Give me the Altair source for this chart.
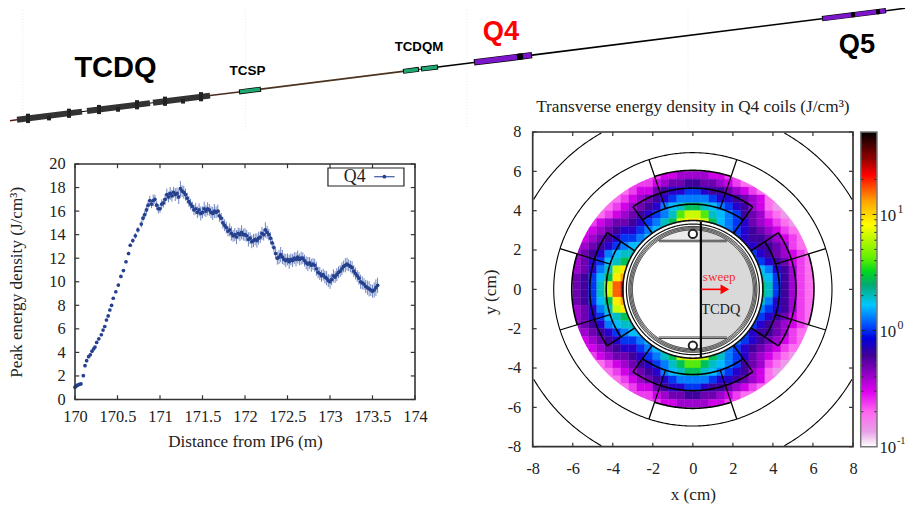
import altair as alt
import numpy as np
import pandas as pd

# ---------- left panel data: peak energy density vs distance ----------
DIST = [170.0,170.01,170.02,170.03,170.05,170.07,170.098,170.118,170.137,170.16,170.18,170.2,170.22,170.235,170.255,170.28,170.31,170.33,170.35,170.37,170.39,170.41,170.43,170.45,170.48,170.51,170.54,170.57,170.6,170.63,170.65,170.68,170.71,170.74,170.78,170.8,170.82,
170.84,170.86,170.88,170.90,170.92,170.94,170.96,170.98,171.00,171.02,
171.04,171.06,171.08,171.10,171.12,171.14,171.16,171.18,171.20,171.22,
171.24,171.26,171.28,171.30,171.32,171.34,171.36,171.38,171.40,171.42,
171.44,171.46,171.48,171.50,171.52,171.54,171.56,171.58,171.60,171.62,
171.64,171.66,171.68,171.70,171.72,171.74,171.76,171.78,171.80,171.82,
171.84,171.86,171.88,171.90,171.92,171.94,171.96,171.98,172.00,172.02,
172.04,172.06,172.08,172.10,172.12,172.14,172.16,172.18,172.20,172.22,
172.24,172.26,172.28,172.30,172.32,172.34,172.36,172.38,172.40,172.42,
172.44,172.46,172.48,172.50,172.52,172.54,172.56,172.58,172.60,172.62,
172.64,172.66,172.68,172.70,172.72,172.74,172.76,172.78,172.80,172.82,
172.84,172.86,172.88,172.90,172.92,172.94,172.96,172.98,173.00,173.02,
173.04,173.06,173.08,173.10,173.12,173.14,173.16,173.18,173.20,173.22,
173.24,173.26,173.28,173.30,173.32,173.34,173.36,173.38,173.40,173.42,
173.44,173.46,173.48,173.50,173.52,173.54,173.56]
PEAK = [1.05,1.12,1.18,1.22,1.28,1.32,2.02,2.87,3.3,3.64,3.8,4.1,4.3,4.45,4.85,5.15,5.5,5.9,6.2,6.75,7.1,7.6,8.0,8.6,9.15,9.72,10.45,10.95,11.7,12.4,13.1,13.5,13.9,14.4,14.9,15.4,15.7,
16.1,16.5,16.9,16.6,16.9,17.0,16.5,16.2,16.2,16.6,
16.7,17.0,17.4,17.2,17.5,17.3,17.6,17.4,17.5,17.2,
17.9,17.7,17.6,17.4,17.1,16.8,16.6,16.4,16.1,16.2,
15.9,16.1,15.8,15.9,16.2,16.0,16.2,16.1,15.9,15.8,
16.0,15.9,16.0,15.6,15.4,15.0,14.8,14.6,14.3,14.4,
14.1,13.9,14.0,13.8,14.1,14.0,14.2,14.0,14.0,13.9,
13.6,13.7,13.4,13.5,13.6,13.5,13.7,13.8,14.1,14.0,
14.4,14.2,14.0,13.7,13.3,12.9,12.4,12.0,12.1,12.3,
12.1,11.9,11.8,11.9,11.7,11.9,11.8,12.0,11.9,12.1,
11.9,12.0,12.0,11.8,11.6,11.5,11.6,11.4,11.5,11.4,
11.1,10.8,10.7,10.5,10.6,10.4,10.3,10.1,10.0,10.2,
10.5,10.4,10.6,10.8,10.9,11.1,11.3,11.4,11.5,11.4,
11.3,11.2,10.9,10.7,10.5,10.3,10.0,9.9,9.8,9.6,
9.5,9.4,9.3,9.2,9.3,9.5,9.7]
ERR = [0.03,0.03,0.03,0.03,0.03,0.03,0.05,0.05,0.05,0.06,0.06,0.06,0.06,0.07,0.07,0.07,0.07,0.08,0.08,0.08,0.08,0.1,0.1,0.1,0.1,0.1,0.12,0.12,0.14,0.15,0.15,0.2,0.25,0.25,0.3,0.3,0.3,
0.35,0.4,0.4,0.35,0.5,0.4,0.35,0.4,0.35,0.4,
0.4,0.45,0.5,0.45,0.55,0.5,0.45,0.55,0.5,0.6,
0.65,0.5,0.55,0.5,0.45,0.45,0.45,0.4,0.45,0.5,
0.5,0.55,0.6,0.5,0.6,0.5,0.55,0.5,0.5,0.55,
0.6,0.5,0.55,0.5,0.45,0.5,0.5,0.5,0.45,0.55,
0.6,0.5,0.55,0.6,0.5,0.55,0.6,0.5,0.55,0.5,
0.6,0.5,0.55,0.55,0.5,0.6,0.55,0.5,0.55,0.5,
0.65,0.55,0.5,0.5,0.45,0.4,0.4,0.55,0.6,0.65,
0.6,0.5,0.55,0.5,0.6,0.5,0.55,0.5,0.6,0.55,
0.5,0.55,0.5,0.5,0.55,0.6,0.5,0.55,0.5,0.55,
0.6,0.5,0.55,0.5,0.5,0.55,0.6,0.55,0.6,0.5,
0.55,0.5,0.55,0.5,0.5,0.55,0.5,0.6,0.55,0.5,
0.5,0.55,0.5,0.5,0.5,0.55,0.6,0.55,0.5,0.55,
0.6,0.65,0.5,0.55,0.65,0.7,0.65]
X_TICKS = [170,170.5,171,171.5,172,172.5,173,173.5,174]
Y_TICKS = [0,2,4,6,8,10,12,14,16,18,20]

# ---------- heat map: colour level of each 0.4 cm cell, top row first ----------
HEAT_ROWS = [
"..........deeffffeed..........",
"........ddefgghhggfedc........",
"......cdeeghiijjihhgfedc......",
".....cdefghijkkkkjiihgfec.....",
"....cdefghiklmnnmlkjihfecb....",
"...cdefghijkmoppomlkjhgfdcb...",
"..defgghijkmnpqqpnlkjigfedcb..",
"..efghiijkln......lkjihgfedc..",
".efghijjkl..........jihhgfedc.",
".fghijkll............iihhgfdc.",
"fghiklmm..............jihgfedc",
"fgijlmno..............kjihgedc",
"fgikmpqq..............llkihfdc",
"ghjlnqrr..............mmljhfdc",
"ghjmpstt..............nnmjhfdc",
"ghjmpstt..............nnmjhfdc",
"ghjlnqrr..............mmkihfdc",
"fgikmpqq..............lkjihfdc",
"fgijlmno..............kjihgedc",
"fghiklmm..............jihgfedc",
".fghijkll............jihhgfdc.",
".efghijjkl..........kjihgfedc.",
"..efghiijkln......mkjihgfedc..",
"..defgghijkmnpqqpnmkjigfedcb..",
"...cdefghijkmnoonmlkjhgfdcb...",
"....cdefghiklmnnmlkjihfecb....",
".....cdefghijkkkkjiihgfec.....",
"......cdeeghiijjihhgfedc......",
"........ddefgghhggfedc........",
"..........deeffffeed..........",
]
LEVEL_CODES = "abcdefghijklmnopqrst"
LEVEL_LOG = [-0.95,-0.85,-0.72,-0.6,-0.5,-0.4,-0.3,-0.2,-0.1,0.0,0.1,0.2,0.3,0.45,0.6,0.8,0.95,1.1,1.25,1.35]
CMAP_LOG = [-1.0,-0.87,-0.70,-0.526,-0.353,-0.21,-0.066,0.049,0.221,0.394,0.509,0.624,0.911,1.112,1.342,1.486,1.71]
CMAP_COL = ["#ffffff","#e8a0e8","#ff66f0","#e000f0","#8800c0","#400098","#0000e0","#0050ff","#00c8ff","#00aa70","#00d820","#60f000","#ffff00","#ffa500","#ff0000","#900000","#000000"]

# ---------- cross-section geometry (cm) ----------
RING_THIN = [6.95]
OUTER_R = 9.17
PIPE_RINGS = [(3.5,1.6),(3.32,1.2),(3.2,1.0),(3.14,0.9),(3.08,0.9),(3.02,0.9)]
TICKS_CM = [-8,-6,-4,-2,0,2,4,6,8]

# ---------- schematic (drawing units along the beam line) ----------
SEG_X0 = [2,9,202,231,253,395,413,430,466,524,814,878,9,79,145,231,395,413,466,510,814,844,869]
SEG_X1 = [9,202,231,253,395,413,430,466,524,814,878,897,74,142,202,253,411,430,524,514,878,846,871]
SEG_W  = [1.5,1,1.6,1,1.9,1,1,1.6,1,1.6,1,1.6,6,6,6,5,5,5,6.5,6.5,5.4,5.4,5.4]
SEG_C  = ["#5a1a1a","#000000","#4a2a20","#000000","#4a3420","#000000","#000000","#000000","#000000","#000000","#000000","#000000","#333333","#333333","#333333","#000000","#000000","#000000","#000000","#000000","#000000","#000000","#000000"]
FILL_X0 = [232,396,414,467,515,815,847,872]
FILL_X1 = [252,410,429,509,523,843,868,877]
FILL_W  = [3.6,3.6,3.6,5.2,5.2,4.2,4.2,4.2]
FILL_C  = ["#1fa871","#1fa871","#1fa871","#7b16c9","#7b16c9","#7b16c9","#7b16c9","#7b16c9"]
BLOB_X = [20,20,41,61,91,110,129,157,175,193]
BLOB_UP = [4.6,4.6,0,4.6,4.6,0,4.6,4.6,0,4.6]
BLOB_DN = [4.6,4.6,4.6,4.6,4.6,4.6,4.6,4.6,4.6,4.6]
GUIDES = [15,237.5,459,680]

# The page shrinks the drawing to 898 px wide and centres it vertically,
# so everything is laid out a little larger and a little higher.
W, H = 906, 496
S = 906 / 898
DY = H * (1 - 1 / S) / 2
LEFT_X = [67 * S, 407 * S]; LEFT_Y = [(391.5 - DY) * S, (156 - DY) * S]
RIGHT_X = [524.7 * S, 845 * S]; RIGHT_Y = [(438.7 - DY) * S, (124 - DY) * S]
BAR_X = [852.7 * S, 869 * S]; BAR_Y = [(438.7 - DY) * S, (124 - DY) * S]

SERIF = "Liberation Serif"; SANS = "Liberation Sans"; INK = "#222222"

def beam_y(x):
    return 112.7 - 0.1256 * (x - 2)

def scales(kind):
    if kind == "sch":
        return alt.Scale(domain=[0, 898], range=[0, W]), alt.Scale(domain=[DY, DY + H / S], range=[0, H])
    if kind == "left":
        return alt.Scale(domain=[170, 174], range=LEFT_X), alt.Scale(domain=[0, 20], range=LEFT_Y)
    if kind == "right":
        return alt.Scale(domain=[-8, 8], range=RIGHT_X), alt.Scale(domain=[-8, 8], range=RIGHT_Y)
    return alt.Scale(domain=[0, 1], range=BAR_X), alt.Scale(domain=[-1, 1.71], range=BAR_Y)

def X(kind, f="x", **kw):
    return alt.X(f"{f}:Q", scale=scales(kind)[0], axis=kw.get("axis", None), title=kw.get("title", None))
def Y(kind, f="y", **kw):
    return alt.Y(f"{f}:Q", scale=scales(kind)[1], axis=kw.get("axis", None), title=kw.get("title", None))

def text(kind, s, x, y, size, font=SERIF, color=INK, **mk):
    df = pd.DataFrame({"x": [x], "y": [y], "t": [s]})
    return alt.Chart(df).mark_text(font=font, fontSize=size, color=color, **mk).encode(
        x=X(kind), y=Y(kind), text="t:N")

def polylines(kind, df):
    return alt.Chart(df).mark_line(strokeCap="butt").encode(
        x=X(kind), y=Y(kind), detail="id:N", order="i:Q",
        color=alt.Color("c:N", scale=None), size=alt.Size("w:Q", scale=None))

def rules(kind, df, color, width):
    return alt.Chart(df).mark_rule(color=color, strokeWidth=width).encode(
        x=X(kind), y=Y(kind), x2="x2:Q", y2="y2:Q")

def frame(kind, x0, x1, y0, y1, color, width, xaxis=None, yaxis=None):
    df = pd.DataFrame({"x": [x0], "x1": [x1], "y": [y0], "y1": [y1]})
    return alt.Chart(df).mark_rect(fillOpacity=0, stroke=color, strokeWidth=width).encode(
        x=X(kind, axis=xaxis[0], title=xaxis[1]) if xaxis else X(kind),
        x2="x1:Q",
        y=Y(kind, axis=yaxis[0], title=yaxis[1]) if yaxis else Y(kind),
        y2="y1:Q")

def tick_table(xs, ys, xr, yr, lx, ly):
    rows = []
    for v in xs:
        rows += [dict(x=v, x2=v, y=yr[0], y2=yr[0] + ly), dict(x=v, x2=v, y=yr[1], y2=yr[1] - ly)]
    for v in ys:
        rows += [dict(x=xr[0], x2=xr[0] + lx, y=v, y2=v), dict(x=xr[1], x2=xr[1] - lx, y=v, y2=v)]
    return pd.DataFrame(rows)

def axis_common(values, **kw):
    return alt.Axis(values=values, domain=False, ticks=False, grid=False, labelFont=SERIF,
                    labelFontSize=16.5, labelColor=INK, labelExpr="'' + datum.value",
                    labelOverlap=False, labelFlush=False, titleFont=SERIF, titleFontSize=17.3,
                    titleFontWeight="normal", titleColor=INK, **kw)

# ---------- schematic ----------
rows = []
for k, (a, b, w, c) in enumerate(zip(SEG_X0 + FILL_X0, SEG_X1 + FILL_X1, SEG_W + FILL_W, SEG_C + FILL_C)):
    for i, xx in enumerate([a, b]):
        rows.append(dict(id=f"{k:03d}", i=i, x=xx, y=beam_y(xx), w=w, c=c))
for k, (xx, u, d) in enumerate(zip(BLOB_X, BLOB_UP, BLOB_DN)):
    rows.append(dict(id=f"b{k:02d}", i=0, x=xx, y=beam_y(xx) - u, w=4, c="#222222"))
    rows.append(dict(id=f"b{k:02d}", i=1, x=xx, y=beam_y(xx) + d, w=4, c="#222222"))
sch_df = pd.DataFrame(rows)
guide_df = pd.DataFrame({"x": GUIDES, "x2": GUIDES, "y": [-4] * 4, "y2": [122] * 4})
schematic = [
    alt.Chart(guide_df).mark_rule(color="#e6e6e6", strokeWidth=0.8, strokeDash=[1, 2]).encode(
        x=X("sch"), y=Y("sch"), x2="x2:Q", y2="y2:Q"),
    polylines("sch", sch_df),
    text("sch", "TCDQ", 107.5, 60, 29.3, SANS, "#000000", fontWeight="bold"),
    text("sch", "TCSP", 239.5, 63, 13.6, SANS, "#000000", fontWeight="bold"),
    text("sch", "TCDQM", 411, 39, 13.4, SANS, "#000000", fontWeight="bold"),
    text("sch", "Q4", 493, 24, 27.5, SANS, "#ff0000", fontWeight="bold"),
    text("sch", "Q5", 849, 37, 27.5, SANS, "#000000", fontWeight="bold"),
]

# ---------- left panel ----------
peak_df = pd.DataFrame({"x": DIST, "y": PEAK, "e": ERR})
peak_df["lo"] = peak_df.y - peak_df.e
peak_df["hi"] = peak_df.y + peak_df.e
left_x_axis = axis_common(X_TICKS, labelPadding=9, offset=LEFT_Y[0] - H, titleX=(LEFT_X[0] + LEFT_X[1]) / 2, titleY=42, titleBaseline="middle", orient="bottom")
left_y_axis = axis_common(Y_TICKS, labelPadding=10, offset=-LEFT_X[0], titleX=-59, titleY=274, titleBaseline="middle", orient="left")
legend_line = pd.DataFrame({"x": [173.52, 173.76], "y": [18.92, 18.92], "i": [0, 1], "id": ["l", "l"], "c": ["#3a56a0"] * 2, "w": [1.2, 1.2]})
left = [
    alt.Chart(peak_df).mark_rule(color="#4a66b0", strokeWidth=1, opacity=0.8).encode(
        x=X("left"), y=Y("left", f="lo"), y2="hi:Q"),
    alt.Chart(peak_df).mark_circle(color="#24408e", size=14, opacity=1).encode(x=X("left"), y=Y("left")),
    rules("left", tick_table(X_TICKS, Y_TICKS, [170, 174], [0, 20], 0.05, 0.36), "#333333", 1.2),
    frame("left", 170, 174, 0, 20, "#333333", 1.6,
          xaxis=(left_x_axis, "Distance from IP6 (m)"), yaxis=(left_y_axis, "Peak energy density (J/cm³)")),
    frame("left", 172.976, 173.87, 18.13, 19.66, "#222222", 1.2),
    text("left", "Q4", 173.29, 18.9, 18),
    polylines("left", legend_line),
    alt.Chart(pd.DataFrame({"x": [173.64], "y": [18.92]})).mark_circle(color="#24408e", size=14, opacity=1).encode(x=X("left"), y=Y("left")),
]

# ---------- right panel ----------
heat = []
for r, row in enumerate(HEAT_ROWS):
    inner = row.strip(".")
    first = len(row) - len(row.lstrip("."))
    for c, ch in enumerate(row):
        xc, yc = -5.8 + 0.4 * c, 5.8 - 0.4 * r
        if ch == "." and 6.0 < np.hypot(xc, yc) < 6.7:
            ch = inner[0] if c < first else inner[-1]   # the mask below trims these to the coil edge
        if ch != ".":
            heat.append(dict(x=xc - 0.2, x1=xc + 0.2, y=yc + 0.2, y1=yc - 0.2,
                             v=LEVEL_LOG[LEVEL_CODES.index(ch)]))
heat_df = pd.DataFrame(heat)
cscale = alt.Scale(domain=CMAP_LOG, range=CMAP_COL)
heatmap = alt.Chart(heat_df).mark_rect(strokeWidth=0.4).encode(
    x=X("right"), x2="x1:Q", y=Y("right"), y2="y1:Q",
    color=alt.Color("v:Q", scale=cscale, legend=None),
    stroke=alt.Stroke("v:Q", scale=cscale, legend=None))

def disc(x0, x1, r, color, y_low=None):
    xs = np.linspace(x0, x1, 160)
    top = np.sqrt(np.clip(r * r - xs * xs, 0, None))
    low = -top if y_low is None else np.full_like(xs, y_low)
    return alt.Chart(pd.DataFrame({"x": xs, "y": top, "y1": low})).mark_area(color=color, opacity=1).encode(
        x=X("right"), y=Y("right"), y2="y1:Q")

lines = []
def add_arc(store, idn, r, a0, a1, w, c="#000000", box=False):
    for i, a in enumerate(np.radians(np.linspace(a0, a1, max(6, int(abs(a1 - a0) * 1.5))))):
        xx, yy = r * np.cos(a), r * np.sin(a)
        if box and (abs(xx) > 8 or abs(yy) > 8):
            continue
        store.append(dict(id=idn, i=i, x=xx, y=yy, w=w, c=c))
def add_radial(idn, r0, r1, a, w, c="#000000"):
    for i, rr in enumerate([r0, r1]):
        lines.append(dict(id=idn, i=i, x=rr * np.cos(np.radians(a)), y=rr * np.sin(np.radians(a)), w=w, c=c))

mask = []
add_arc(mask, "mask", 6.55, 0, 360, 20, "#ffffff")
for corner, ac in enumerate([45, 135, 225, 315]):
    add_arc(lines, f"o{corner}", OUTER_R, ac - 44, ac + 44, 1.1, box=True)
add_arc(lines, "ring", RING_THIN[0], 0, 360, 1.1)
for k, r_w in enumerate(PIPE_RINGS):
    add_arc(lines, f"p{k}", r_w[0], 0, 360, r_w[1], "#111111")
for direction, inner_a, outer_a in [(90, 35.5, 18.4), (270, 35.5, 18.4), (180, 34, 17.3), (0, 34, 17.3)]:
    add_arc(lines, f"a{direction}", 6.05, direction - outer_a, direction + outer_a, 1.6)
    add_arc(lines, f"b{direction}", 5.15, direction - inner_a, direction + inner_a, 1.6)
    add_arc(lines, f"c{direction}", 4.33, direction - inner_a, direction + inner_a, 1.6)
    for s in (-1, 1):
        add_radial(f"r{direction}{s}", 4.33, 6.95, direction + s * outer_a, 1.3)
        add_radial(f"q{direction}{s}", 3.5, 5.15, direction + s * inner_a, 1.5)
lines_df = pd.DataFrame(lines)
flats = pd.DataFrame({"id": ["f1", "f1", "f2", "f2", "f3", "f3", "f4", "f4", "v", "v"],
                      "i": [0, 1] * 5,
                      "x": [-1.7, 1.7, -1.7, 1.7, -1.7, 1.7, -1.7, 1.7, 0.4, 0.4],
                      "y": [2.5, 2.5, 2.42, 2.42, -2.5, -2.5, -2.42, -2.42, -3.44, 3.44],
                      "w": [1.1] * 8 + [2.2] * 2,
                      "c": ["#444444"] * 8 + ["#000000"] * 2})
right_x_axis = axis_common(TICKS_CM, labelPadding=14, offset=RIGHT_Y[0] - H, titleX=(RIGHT_X[0] + RIGHT_X[1]) / 2, titleY=48, titleBaseline="middle", orient="bottom")
right_y_axis = axis_common(TICKS_CM, labelPadding=12, offset=-RIGHT_X[0], titleX=-43, titleY=284, titleBaseline="middle", orient="left")
right = [
    heatmap,
    polylines("right", pd.DataFrame(mask)),
    disc(-3.45, 3.45, 3.48, "#ffffff"),
    disc(0.4, 3.0, 3.0, "#d9d9d9"),
    disc(-1.7, 0.4, 3.0, "#ececec", 2.46),
    polylines("right", lines_df),
    polylines("right", flats),
    alt.Chart(pd.DataFrame({"x": [0, 0], "y": [2.82, -2.86]})).mark_point(
        filled=False, fill="#ffffff", fillOpacity=1, stroke="#222222", strokeWidth=2, size=70, opacity=1).encode(
        x=X("right"), y=Y("right")),
    polylines("right", pd.DataFrame({"id": ["s", "s"], "i": [0, 1], "x": [0.42, 1.7], "y": [0, 0], "w": [1.6, 1.6], "c": ["#ff0000"] * 2})),
    alt.Chart(pd.DataFrame({"x": [1.6], "y": [0]})).mark_point(
        shape="triangle-right", filled=True, color="#ff0000", size=100, opacity=1).encode(x=X("right"), y=Y("right")),
    text("right", "sweep", 0.5, 0.64, 13.2, color="#f03030", align="left"),
    text("right", "TCDQ", 0.42, -1.05, 14.5, align="left"),
    rules("right", tick_table(TICKS_CM, TICKS_CM, [-8, 8], [-8, 8], 0.2, 0.2), "#333333", 1.2),
    frame("right", -8, 8, -8, 8, "#333333", 1.7,
          xaxis=(right_x_axis, "x (cm)"), yaxis=(right_y_axis, "y (cm)")),
    text("right", "Transverse energy density in Q4 coils (J/cm³)", 0, 9.25, 17.4),
]

# ---------- colour bar ----------
stops = [alt.GradientStop(color=c, offset=(1.71 - v) / 2.71) for v, c in zip(CMAP_LOG[::-1], CMAP_COL[::-1])]
bar_df = pd.DataFrame({"x": [0], "x1": [1], "y": [-1], "y1": [1.71]})
minor = [m * 10.0 ** k for k in (-1, 0, 1) for m in range(2, 10) if m * 10.0 ** k < 50]
tick_rows = []
for v in minor + [1.0, 10.0]:
    ln = 0.27 if v in (1.0, 10.0) else 0.16
    for x0, x1 in [(0, ln), (1, 1 - ln)]:
        tick_rows.append(dict(x=x0, x2=x1, y=np.log10(v), y2=np.log10(v)))
bar = [
    alt.Chart(bar_df).mark_rect(fill=alt.LinearGradient(gradient="linear", stops=stops, x1=0, x2=0, y1=0, y2=1)).encode(
        x=X("bar"), x2="x1:Q", y=Y("bar"), y2="y1:Q"),
    rules("bar", pd.DataFrame(tick_rows), "#222222", 1),
    frame("bar", 0, 1, -1, 1.71, "#777777", 1.5),
    text("bar", "10", 1.15, 0.985, 17, align="left"),
    text("bar", "1", 2.25, 1.05, 12, align="left"),
    text("bar", "10", 1.15, -0.015, 17, align="left"),
    text("bar", "0", 2.25, 0.05, 12, align="left"),
    text("bar", "10", 1.15, -1.015, 17, align="left"),
    text("bar", "-1", 2.22, -0.95, 10.5, align="left"),
]

chart = alt.layer(*schematic, *left, *right, *bar).resolve_scale(
    x="independent", y="independent", color="independent", stroke="independent", size="independent"
).resolve_axis(x="independent", y="independent").properties(
    width=W, height=H, padding=0, autosize=alt.AutoSizeParams(type="none")
).configure_view(stroke=None)

chart.save("out.html", embed_options={"renderer": "svg", "actions": False})
